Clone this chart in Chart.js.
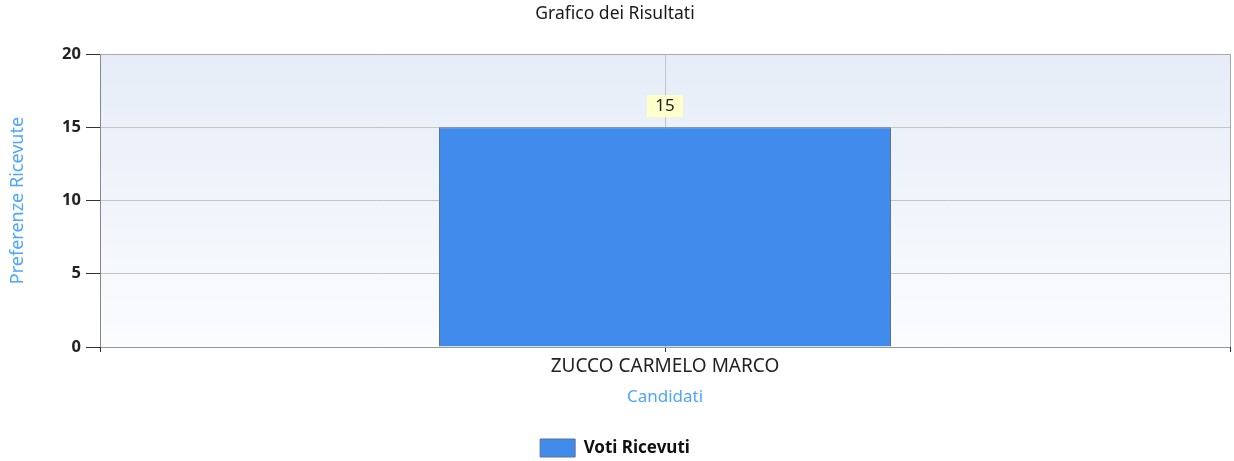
<!DOCTYPE html>
<html>
<head>
<meta charset="utf-8">
<script src="https://cdn.jsdelivr.net/npm/chart.js@4/dist/chart.umd.min.js"></script>
<style>
  body { margin: 0; background: #fff; }
  #wrap { width: 1234px; height: 461px; position: relative; }
</style>
</head>
<body>
<div id="wrap"><canvas id="chart"></canvas></div>
<script>
const candidati = ['ZUCCO CARMELO MARCO'];
const votiRicevuti = [15];
const yTicks = [0, 5, 10, 15, 20];

const FONT = "'Noto Sans', 'DejaVu Sans', sans-serif";

// plot background gradient + right border + end ticks on x axis
const plotFrame = {
  id: 'plotFrame',
  beforeDraw(chart) {
    const { ctx, chartArea: a } = chart;
    const g = ctx.createLinearGradient(0, a.top, 0, a.bottom);
    g.addColorStop(0, '#e6edf8');
    g.addColorStop(1, '#fbfcfe');
    ctx.save();
    ctx.fillStyle = g;
    ctx.fillRect(a.left, a.top, a.right - a.left, a.bottom - a.top);
    ctx.restore();
  },
  afterDraw(chart) {
    const { ctx, chartArea: a } = chart;
    ctx.save();
    ctx.strokeStyle = '#a8a8a8';
    ctx.lineWidth = 1;
    ctx.beginPath();
    ctx.moveTo(a.left, a.top + 0.5);
    ctx.lineTo(a.right + 0.5, a.top + 0.5);
    ctx.lineTo(a.right + 0.5, a.bottom);
    ctx.stroke();
    ctx.strokeStyle = '#333';
    ctx.beginPath();
    ctx.moveTo(a.left + 0.5, a.bottom);
    ctx.lineTo(a.left + 0.5, a.bottom + 5);
    ctx.moveTo(a.right + 0.5, a.bottom);
    ctx.lineTo(a.right + 0.5, a.bottom + 5);
    ctx.stroke();
    ctx.restore();
  }
};

// value label above each bar
const valueLabels = {
  id: 'valueLabels',
  afterDatasetsDraw(chart) {
    const { ctx } = chart;
    const meta = chart.getDatasetMeta(0);
    const values = chart.data.datasets[0].data;
    ctx.save();
    ctx.font = '17px ' + FONT;
    ctx.textAlign = 'center';
    ctx.textBaseline = 'middle';
    meta.data.forEach((bar, i) => {
      const cy = bar.y - 21;
      ctx.fillStyle = '#ffffcc';
      ctx.fillRect(bar.x - 18, cy - 11, 36, 22);
      ctx.fillStyle = '#222';
      ctx.fillText(String(values[i]), bar.x, cy);
    });
    ctx.restore();
  }
};

new Chart(document.getElementById('chart'), {
  type: 'bar',
  plugins: [plotFrame, valueLabels],
  data: {
    labels: candidati,
    datasets: [{
      label: 'Voti Ricevuti',
      data: votiRicevuti,
      backgroundColor: '#418bed',
      borderColor: '#5d7290',
      borderWidth: 1,
      barPercentage: 0.4,
      categoryPercentage: 1,
    }],
  },
  options: {
    responsive: true,
    maintainAspectRatio: false,
    animation: false,
    layout: { padding: { left: 0, right: 4, top: 0, bottom: 0 } },
    plugins: {
      tooltip: { enabled: false },
      title: {
        display: true,
        text: 'Grafico dei Risultati',
        color: '#1a1a1a',
        font: { family: FONT, size: 17.5, weight: 'normal' },
        padding: { top: 3.5, bottom: 29.5 },
      },
      legend: {
        position: 'bottom',
        maxHeight: 32,
        labels: {
          boxWidth: 35,
          boxHeight: 18,
          padding: 10,
          color: '#111',
          font: { family: FONT, size: 17, weight: 'bold' },
        },
      },
    },
    scales: {
      x: {
        offset: true,
        afterFit(scale) { scale.height = 82; },
        grid: { offset: false, color: '#c4c4c4', tickColor: '#333', tickLength: 5 },
        border: { color: '#999' },
        ticks: { color: '#222', padding: 3.6, font: { family: FONT, size: 19 } },
        title: {
          display: true,
          text: 'Candidati',
          color: '#4da6ff',
          font: { family: FONT, size: 17 },
          padding: { top: 2, bottom: 21.8 },
        },
      },
      y: {
        min: 0,
        max: 20,
        afterFit(scale) { scale.width = 100; },
        afterBuildTicks(scale) { scale.ticks = yTicks.map((v) => ({ value: v })); },
        grid: { color: '#c4c4c4', tickColor: '#333', tickLength: 14 },
        border: { color: '#888' },
        ticks: { color: '#222', padding: 5, font: { family: FONT, size: 16.5, weight: 'bold' } },
        title: {
          display: true,
          text: 'Preferenze Ricevute',
          color: '#4da6ff',
          font: { family: FONT, size: 18 },
          padding: { top: 7.2, bottom: 0 },
        },
      },
    },
  },
});
</script>
</body>
</html>
